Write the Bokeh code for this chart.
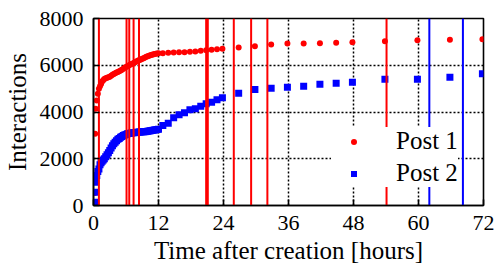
from bokeh.plotting import figure
from bokeh.models import Range1d, FixedTicker
from bokeh.embed import file_html
from bokeh.resources import INLINE

# ---- data (hours after creation, interactions) ----
t_hours = [0.2, 0.3, 0.4, 0.6, 0.8, 1.0, 1.2, 1.4, 1.6, 1.8, 2.0,
           2.25, 2.5, 2.75, 3.0, 3.25, 3.5, 3.75, 4.0, 4.25, 4.5, 4.75,
           5.0, 5.25, 5.5, 5.75, 6.0, 6.25, 6.5, 6.75, 7.0, 7.25, 7.5, 7.75,
           8.0, 8.25, 8.5, 8.75, 9.0, 9.25, 9.5, 9.75, 10.0, 10.25, 10.5, 10.75,
           11.0, 11.25, 11.5, 11.75, 12.0,
           12.8, 13.8, 14.8, 15.8, 16.8, 17.8, 18.8, 19.8, 20.8, 21.8, 22.8, 23.8,
           26.8, 29.8, 32.8, 35.8, 38.8, 41.8, 44.8, 47.8, 53.8, 59.8, 65.8, 71.8]

post1 = [540, 3070, 4135, 4490, 4780, 5000, 5100, 5200, 5300, 5360, 5410,
         5440, 5470, 5490, 5510, 5550, 5590, 5630, 5660, 5690, 5710, 5740,
         5780, 5810, 5850, 5890, 5930, 5960, 5990, 6020, 6050, 6080, 6110, 6140,
         6170, 6200, 6225, 6250, 6275, 6300, 6330, 6360, 6390, 6410, 6430, 6450,
         6465, 6480, 6495, 6505, 6510,
         6515, 6530, 6545, 6558, 6560, 6575, 6590, 6616, 6644, 6660, 6687, 6702,
         6759, 6815, 6888, 6931, 6935, 6944, 6960, 6986, 7029, 7072, 7086, 7115]

post2 = [140, 570, 1000, 1280, 1450, 1560, 1740, 1830, 1890, 1950, 2000,
         2090, 2170, 2260, 2350, 2460, 2560, 2640, 2710, 2770, 2830, 2870,
         2920, 2950, 2990, 3020, 3040, 3065, 3080, 3090, 3100, 3110, 3115, 3125,
         3130, 3135, 3140, 3145, 3150, 3155, 3160, 3165, 3175, 3185, 3195, 3205,
         3220, 3230, 3240, 3250, 3260,
         3420, 3520, 3750, 3880, 3965, 4094, 4137, 4250, 4350, 4420, 4520, 4607,
         4805, 4962, 5019, 5060, 5105, 5190, 5233, 5275, 5405, 5405, 5490, 5635]

post1_events = [1.0, 6.1, 6.6, 7.4, 8.4, 20.8, 21.1, 25.9, 29.1, 32.1, 54.1]
post2_events = [62.0, 68.2]

x_ticks = [0, 12, 24, 36, 48, 60, 72]
y_ticks = [0, 2000, 4000, 6000, 8000]

FONT = "Liberation Serif"

p = figure(output_backend="svg", toolbar_location=None,
           frame_width=390, frame_height=187,
           min_border_left=85, min_border_top=18, min_border_right=12, min_border_bottom=48,
           x_range=Range1d(0, 72), y_range=Range1d(0, 8000),
           background_fill_color="white", border_fill_color="white")

p.outline_line_color = "black"
p.outline_line_width = 1.6

for ax in (p.xaxis[0], p.yaxis[0]):
    ax.axis_line_color = "black"
    ax.axis_line_width = 1.6
    ax.major_tick_in = 6
    ax.major_tick_out = 0
    ax.major_tick_line_width = 1.6
    ax.minor_tick_line_color = None
    ax.major_label_text_font = FONT
    ax.major_label_text_font_size = "22px"
    ax.major_label_text_color = "black"
    ax.axis_label_text_font = FONT
    ax.axis_label_text_font_size = "25px"
    ax.axis_label_text_font_style = "normal"
    ax.axis_label_text_color = "black"

p.xaxis.ticker = FixedTicker(ticks=x_ticks)
p.yaxis.ticker = FixedTicker(ticks=y_ticks)
p.xaxis.axis_label = "Time after creation [hours]"
p.yaxis.axis_label = "Interactions"
p.xaxis.major_label_standoff = 10
p.yaxis.major_label_standoff = 10
p.xaxis.axis_label_standoff = 4
p.yaxis.axis_label_standoff = 6

p.xgrid.ticker = FixedTicker(ticks=x_ticks)
p.ygrid.ticker = FixedTicker(ticks=y_ticks)
for g in (p.xgrid[0], p.ygrid[0]):
    g.grid_line_color = "black"
    g.grid_line_dash = "2 2"
    g.grid_line_width = 1.5

p.scatter(t_hours, post1, marker="circle", size=6, fill_color="#ff0000",
          line_color=None, legend_label="Post 1")
p.scatter(t_hours, post2, marker="square", size=7, fill_color="#0000ff",
          line_color=None, legend_label="Post 2")

p.segment(x0=post1_events, y0=[0] * len(post1_events),
          x1=post1_events, y1=[8000] * len(post1_events),
          line_color="#ff0000", line_width=2)
p.segment(x0=post2_events, y0=[0] * len(post2_events),
          x1=post2_events, y1=[8000] * len(post2_events),
          line_color="#0000ff", line_width=2)

lg = p.legend[0]
lg.location = (238, 18)
lg.background_fill_color = "white"
lg.background_fill_alpha = 1.0
lg.border_line_color = None
lg.padding = 9
lg.spacing = 4
lg.margin = 0
lg.glyph_width = 45
lg.glyph_height = 15
lg.label_height = 26
lg.label_standoff = 20
lg.label_text_font = FONT
lg.label_text_font_size = "25px"
lg.label_text_color = "black"

open("out.html", "w").write(file_html(p, INLINE))
